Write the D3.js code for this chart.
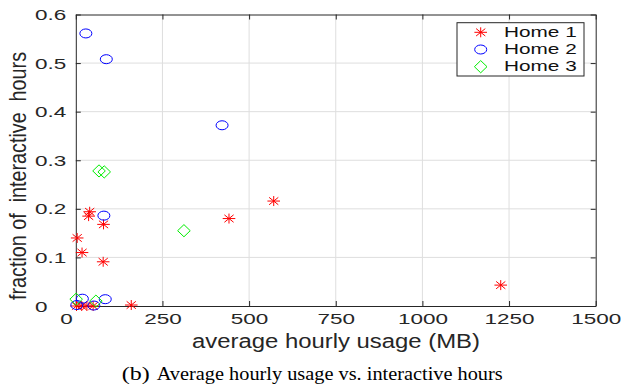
<!DOCTYPE html>
<html>
<head>
<meta charset="utf-8">
<script src="https://cdn.jsdelivr.net/npm/d3@7"></script>
<style>
  html, body { margin: 0; padding: 0; background: #fff; }
  svg { display: block; }
</style>
</head>
<body>
<svg id="chart" width="625" height="385"></svg>
<script>
// ---- data ----
const home1X = [4, 18, 40, 37, 80, 79, 160, 442, 571, 1226, 2, 17, 32, 50];
const home1Y = [0.140, 0.110, 0.194, 0.185, 0.168, 0.091, 0.002, 0.180, 0.216, 0.043, 0.000, 0.000, 0.000, 0.000];
const home2X = [29, 88, 422, 81, 85, 19, 3, 52];
const home2Y = [0.561, 0.508, 0.372, 0.186, 0.014, 0.015, 0.002, 0.001];
const home3X = [67, 82, 312, 1, 58];
const home3Y = [0.278, 0.276, 0.155, 0.014, 0.010];
const seriesNames = ["Home 1", "Home 2", "Home 3"];
const xTicks = [0, 250, 500, 750, 1000, 1250, 1500];
const yTicks = [0, 0.1, 0.2, 0.3, 0.4, 0.5, 0.6];
const xLabel = "average hourly usage (MB)";
const yLabel = "fraction of  interactive  hours";
const captionTag = "(b)";
const captionText = "Average hourly usage vs. interactive hours";

const svg = d3.select("#chart");
const L = 75.8, R = 595.7, T = 14.5, B = 306;
const x = d3.scaleLinear().domain([0, 1500]).range([L, R]);
const y = d3.scaleLinear().domain([0, 0.6]).range([B, T]);
const axisColor = "#262626";
const sans = "'Liberation Sans', Arial, Helvetica, sans-serif";

// grid
const grid = svg.append("g");
grid.selectAll("line.gx").data(xTicks.slice(1, -1)).join("line")
  .attr("x1", d => x(d)).attr("x2", d => x(d)).attr("y1", T).attr("y2", B)
  .attr("stroke", "#dedede").attr("stroke-width", 1);
grid.selectAll("line.gy").data(yTicks.slice(1, -1)).join("line")
  .attr("x1", L).attr("x2", R).attr("y1", d => y(d)).attr("y2", d => y(d))
  .attr("stroke", "#dedede").attr("stroke-width", 1);

// axes
function styleAxis(g) {
  g.select(".domain").attr("stroke", axisColor).attr("stroke-width", 1);
  g.selectAll(".tick line").attr("stroke", axisColor).attr("stroke-width", 1);
}
const gx = svg.append("g").attr("transform", `translate(0,${B})`)
  .call(d3.axisBottom(x).tickValues(xTicks).tickSize(-5).tickSizeOuter(0).tickFormat(d3.format("d")));
styleAxis(gx);
gx.selectAll(".tick text")
  .attr("font-family", sans).attr("font-size", 15).attr("fill", axisColor)
  .attr("y", 18).attr("dy", 0)
  .attr("x", (d, i) => i === 0 ? -6.5 : 0)
  .attr("transform", "scale(1.5,1)");

const gy = svg.append("g").attr("transform", `translate(${L},0)`)
  .call(d3.axisLeft(y).tickValues(yTicks).tickSize(-5).tickSizeOuter(0).tickFormat(d => d === 0 ? "0" : d3.format(".1f")(d)));
styleAxis(gy);
gy.selectAll(".tick text")
  .attr("font-family", sans).attr("font-size", 15).attr("fill", axisColor)
  .attr("text-anchor", "start").attr("x", (35 - L) / 1.5).attr("dy", "0.34em")
  .attr("transform", "scale(1.5,1)");

const gt = svg.append("g").attr("transform", `translate(0,${T})`)
  .call(d3.axisTop(x).tickValues(xTicks).tickSize(-5).tickSizeOuter(0).tickFormat(""));
styleAxis(gt);
const gr = svg.append("g").attr("transform", `translate(${R},0)`)
  .call(d3.axisRight(y).tickValues(yTicks).tickSize(-5).tickSizeOuter(0).tickFormat(""));
styleAxis(gr);

// markers
const starPath = "M-6.3,0H6.3M0,-5V5M-4.6,-3.7L4.6,3.7M-4.6,3.7L4.6,-3.7";
const diamondPath = "M0,-6.1L6.3,0L0,6.1L-6.3,0Z";
const pts = svg.append("g");
function drawSeries(xs, ys, kind, color) {
  const data = xs.map((v, i) => [v, ys[i]]);
  const g = pts.append("g");
  if (kind === "star") {
    g.selectAll("path").data(data).join("path")
      .attr("transform", d => `translate(${x(d[0])},${y(d[1])})`)
      .attr("d", starPath).attr("stroke", color).attr("stroke-width", 1).attr("fill", "none");
  } else if (kind === "circle") {
    g.selectAll("ellipse").data(data).join("ellipse")
      .attr("cx", d => x(d[0])).attr("cy", d => y(d[1])).attr("rx", 6).attr("ry", 4.5)
      .attr("stroke", color).attr("stroke-width", 1).attr("fill", "none");
  } else {
    g.selectAll("path").data(data).join("path")
      .attr("transform", d => `translate(${x(d[0])},${y(d[1])})`)
      .attr("d", diamondPath).attr("stroke", color).attr("stroke-width", 1).attr("fill", "none");
  }
}
drawSeries(home1X, home1Y, "star", "#ff0000");
drawSeries(home2X, home2Y, "circle", "#0000ff");
drawSeries(home3X, home3Y, "diamond", "#00ee00");

// legend
const lg = svg.append("g");
lg.append("rect").attr("x", 457).attr("y", 22.7).attr("width", 127).attr("height", 53.3)
  .attr("fill", "#fff").attr("stroke", axisColor).attr("stroke-width", 1);
const legendKinds = ["star", "circle", "diamond"];
const legendColors = ["#ff0000", "#0000ff", "#00ee00"];
seriesNames.forEach((name, i) => {
  const cy = 32.3 + i * 17.2, cx = 480.7;
  if (legendKinds[i] === "star") {
    lg.append("path").attr("transform", `translate(${cx},${cy})`).attr("d", starPath)
      .attr("stroke", legendColors[i]).attr("fill", "none");
  } else if (legendKinds[i] === "circle") {
    lg.append("ellipse").attr("cx", cx).attr("cy", cy).attr("rx", 6).attr("ry", 4.5)
      .attr("stroke", legendColors[i]).attr("fill", "none");
  } else {
    lg.append("path").attr("transform", `translate(${cx},${cy})`).attr("d", diamondPath)
      .attr("stroke", legendColors[i]).attr("fill", "none");
  }
  lg.append("text").attr("x", 504).attr("y", cy + 4.6)
    .attr("font-family", sans).attr("font-size", 14).attr("fill", "#111")
    .attr("textLength", 72.7).attr("lengthAdjust", "spacingAndGlyphs")
    .text(name);
});

// axis labels
svg.append("text").attr("x", 192).attr("y", 347.7)
  .attr("font-family", sans).attr("font-size", 20).attr("fill", axisColor)
  .attr("textLength", 288).attr("lengthAdjust", "spacingAndGlyphs")
  .text(xLabel);
svg.append("text").attr("transform", "translate(26,176) rotate(-90) scale(1,1.2)")
  .attr("x", -124).attr("y", 0)
  .attr("font-family", sans).attr("font-size", 20).attr("fill", axisColor)
  .attr("textLength", 248).attr("lengthAdjust", "spacingAndGlyphs")
  .style("white-space", "pre")
  .text(yLabel);

// caption
const serif = "'Liberation Serif', 'Times New Roman', Times, serif";
svg.append("text").attr("x", 121.7).attr("y", 380)
  .attr("font-family", serif).attr("font-size", 18).attr("fill", "#000")
  .attr("textLength", 28).attr("lengthAdjust", "spacingAndGlyphs").text(captionTag);
svg.append("text").attr("x", 156.7).attr("y", 380)
  .attr("font-family", serif).attr("font-size", 18).attr("fill", "#000")
  .attr("textLength", 346).attr("lengthAdjust", "spacingAndGlyphs").text(captionText);
</script>
</body>
</html>
